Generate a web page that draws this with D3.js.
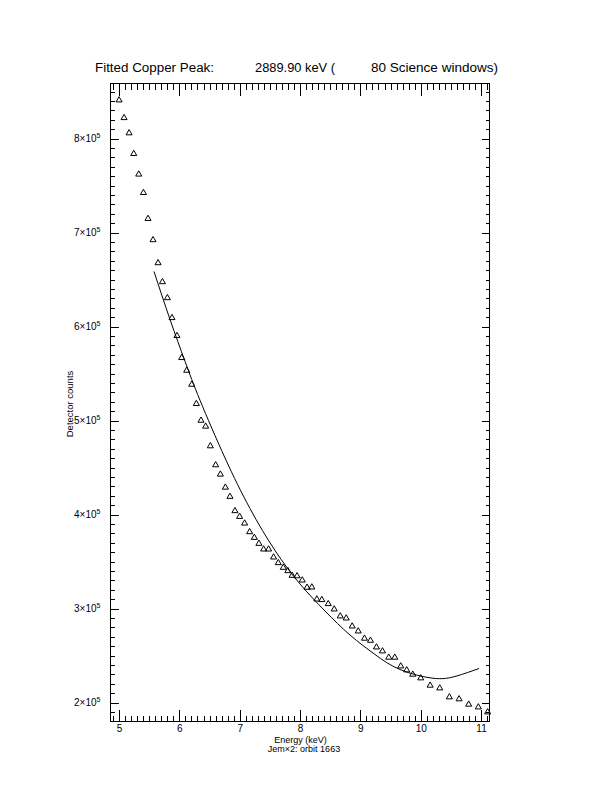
<!DOCTYPE html>
<html>
<head>
<meta charset="utf-8">
<title>Fitted Copper Peak</title>
<script src="https://d3js.org/d3.v7.min.js"></script>
<style>
  body { margin: 0; background: #fff; }
  text { font-family: "Liberation Sans", "DejaVu Sans", sans-serif; fill: #000; }
</style>
</head>
<body>
<div id="chart"></div>
<script>
// measured points (keV, counts)
const energy = [5.000, 5.083, 5.166, 5.243, 5.326, 5.404, 5.480, 5.563, 5.646, 5.719,
  5.801, 5.877, 5.960, 6.038, 6.121, 6.204, 6.281, 6.358, 6.435, 6.513,
  6.601, 6.679, 6.762, 6.838, 6.921, 6.998, 7.081, 7.164, 7.242, 7.318,
  7.396, 7.478, 7.561, 7.639, 7.722, 7.798, 7.868, 7.950, 8.036, 8.116,
  8.195, 8.278, 8.361, 8.467, 8.566, 8.666, 8.765, 8.864, 8.964, 9.068,
  9.167, 9.267, 9.366, 9.470, 9.570, 9.669, 9.768, 9.868, 10.000, 10.156,
  10.315, 10.475, 10.636, 10.795, 10.955, 11.109]
const counts = [841500, 822700, 806500, 784500, 762600, 743000, 715400, 692800, 668300, 648100,
  631100, 609900, 590800, 567400, 553900, 539000, 518500, 500700, 494400, 473500,
  453300, 443400, 429500, 419700, 404500, 398400, 391300, 382100, 376100, 369700,
  363700, 363700, 355200, 349200, 344200, 340700, 335700, 335200, 330700, 323000,
  323300, 310500, 309900, 305600, 299900, 292500, 290300, 281800, 276500, 268800,
  266600, 259500, 255300, 248600, 248600, 239300, 235100, 230500, 226600, 218800,
  215900, 206400, 204300, 198600, 195700, 190400]

// fitted curve
const fitEnergy = [5.579, 5.844, 6.093, 6.342, 6.756, 7.170, 7.585, 7.999, 8.413, 8.828,
  9.242, 9.657, 10.204, 10.585, 10.966]
const fitCounts = [658600, 607600, 563000, 521500, 460200, 406400, 361700, 326100, 297400, 271800,
  251100, 235100, 225800, 228000, 236200]

const xTicks = [5, 6, 7, 8, 9, 10, 11]
const yTicks = [200000, 300000, 400000, 500000, 600000, 700000, 800000]
const titleParts = ["Fitted Copper Peak:", "2889.90 keV (", "80 Science windows)"]

const width = 612, height = 792
const pLeft = 110.5, pRight = 489.5, pTop = 83.5, pBottom = 721.5

const svg = d3.select('#chart').append('svg').attr('width', width).attr('height', height)

const x = d3.scaleLinear().domain([4.858, 11.14]).range([pLeft, pRight])
const y = d3.scaleLinear().domain([179800, 858600]).range([pBottom, pTop])

const xMinor = d3.range(49, 112).map(d => d / 10).filter(d => x(d) >= pLeft && x(d) <= pRight)
const yMinor = d3.range(18, 86).map(d => d * 10000)

function drawAxis(axis, tx, ty) {
  const g = svg.append('g').attr('transform', `translate(${tx},${ty})`)
    .attr('shape-rendering', 'crispEdges').call(axis)
  g.select('.domain').remove()
  return g
}

// bottom
const gx = drawAxis(d3.axisBottom(x).tickValues(xTicks).tickSize(-12).tickPadding(3).tickFormat(d3.format('d')), 0, pBottom)
gx.selectAll('text').attr('font-size', 10).attr('font-family', 'Liberation Sans')
drawAxis(d3.axisBottom(x).tickValues(xMinor).tickSize(-6).tickFormat(''), 0, pBottom)
// top
drawAxis(d3.axisTop(x).tickValues(xTicks).tickSize(-12).tickFormat(''), 0, pTop)
drawAxis(d3.axisTop(x).tickValues(xMinor).tickSize(-6).tickFormat(''), 0, pTop)
// left
const gy = drawAxis(d3.axisLeft(y).tickValues(yTicks).tickSize(-8).tickPadding(10).tickFormat(''), pLeft, 0)
drawAxis(d3.axisLeft(y).tickValues(yMinor).tickSize(-4).tickFormat(''), pLeft, 0)
// right
drawAxis(d3.axisRight(y).tickValues(yTicks).tickSize(-8).tickFormat(''), pRight, 0)
drawAxis(d3.axisRight(y).tickValues(yMinor).tickSize(-4).tickFormat(''), pRight, 0)

gy.selectAll('.tick text').each(function(d) {
  const t = d3.select(this).attr('font-size', 10).attr('font-family', 'Liberation Sans')
  t.append('tspan').text((d / 1e5) + '×10')
  t.append('tspan').attr('font-size', 7).attr('dy', '-4').text('5')
})

svg.append('rect').attr('x', pLeft).attr('y', pTop)
  .attr('width', pRight - pLeft).attr('height', pBottom - pTop)
  .attr('fill', 'none').attr('stroke', '#000').attr('shape-rendering', 'crispEdges')

// fit line
svg.append('path')
  .datum(fitEnergy.map((e, i) => [e, fitCounts[i]]))
  .attr('fill', 'none').attr('stroke', '#000').attr('stroke-width', 1)
  .attr('d', d3.line().x(d => x(d[0])).y(d => y(d[1])).curve(d3.curveNatural))

// data triangles
svg.append('g').selectAll('path')
  .data(energy.map((e, i) => [e, counts[i]]))
  .join('path')
  .attr('transform', d => `translate(${x(d[0])},${y(d[1]) + 0.6})`)
  .attr('d', d3.symbol(d3.symbolTriangle, 16))
  .attr('fill', 'none').attr('stroke', '#000').attr('stroke-width', 1)

// title
const titleX = [95, 255, 371], titleW = [119, 80, 127]
svg.selectAll('text.title').data(titleParts).join('text').attr('class', 'title')
  .attr('x', (d, i) => titleX[i]).attr('y', 72)
  .attr('font-size', 12.5)
  .attr('textLength', (d, i) => titleW[i]).attr('lengthAdjust', 'spacingAndGlyphs')
  .text(d => d)

svg.append('text').attr('x', 300.5).attr('y', 742.5).attr('text-anchor', 'middle')
  .attr('font-size', 9).text('Energy (keV)')
svg.append('text').attr('x', 304).attr('y', 752).attr('text-anchor', 'middle')
  .attr('font-size', 9).text('Jem×2: orbit 1663')
svg.append('text').attr('transform', 'translate(73,404) rotate(-90)').attr('text-anchor', 'middle')
  .attr('font-size', 9.5).text('Detector counts')
</script>
</body>
</html>
